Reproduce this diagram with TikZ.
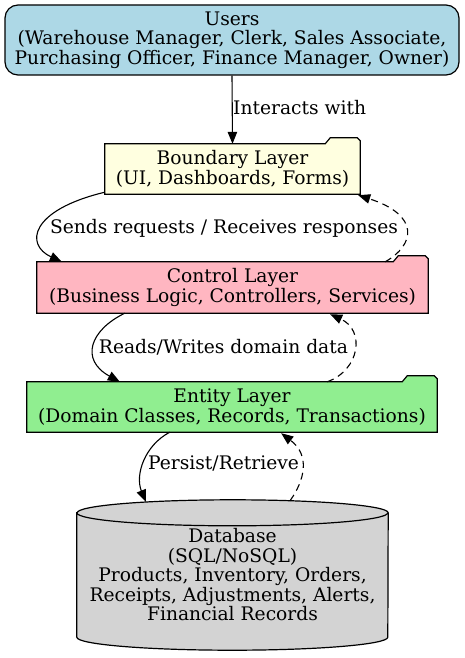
\documentclass[tikz,border=0pt]{standalone}
\usepackage{fontspec}
\setmainfont{DejaVu Serif}
\usetikzlibrary{arrows.meta, positioning, backgrounds}

\definecolor{usersblue}{HTML}{ADD8E6}
\definecolor{bndyellow}{HTML}{FFFFE0}
\definecolor{ctlpink}{HTML}{FFB6C1}
\definecolor{entgreen}{HTML}{90EE90}
\definecolor{dbgray}{HTML}{D3D3D3}

\begin{document}
\begin{tikzpicture}[
    x=1pt, y=1pt,
    >={Triangle[length=12pt,width=9.5pt]},
    every node/.style={font=\fontsize{18.67}{19.5}\selectfont, align=center},
    roundbox/.style={
        draw,
        rectangle,
        rounded corners=13pt,
        line width=1.2pt,
        inner sep=0pt,
        fill=usersblue
    },
    layer/.style={
        rectangle,
        inner sep=0pt,
        minimum height=50pt
    },
    outline/.style={draw=black, line width=1.2pt},
    lbl/.style={inner sep=1pt},
    arrow/.style={->, line width=1.1pt},
    back/.style={->, line width=1.1pt, dash pattern=on 7pt off 5pt}
]
\useasboundingbox (0,0) rectangle (465,-658);

\node[roundbox, minimum width=454pt, minimum height=70pt] (users) at (232,-40)
    {Users\\(Warehouse Manager, Clerk, Sales Associate,\\Purchasing Officer, Finance Manager, Owner)};
\node[layer, minimum width=255pt] (bnd) at (232.5,-169) {Boundary Layer\\(UI, Dashboards, Forms)};
\node[layer, minimum width=391pt, minimum height=51pt] (ctl) at (232.5,-287.5)
    {Control Layer\\(Business Logic, Controllers, Services)};
\node[layer, minimum width=410pt] (ent) at (232,-407)
    {Entity Layer\\(Domain Classes, Records, Transactions)};
\node[inner sep=0pt, minimum width=311pt, minimum height=150pt] (db) at (232.5,-575)
    {Database\\(SQL/NoSQL)\\Products, Inventory, Orders,\\Receipts, Adjustments, Alerts,\\Financial Records};

% folder outlines and the cylinder behind the texts
\begin{scope}[on background layer]
\foreach \n/\c in {bnd/bndyellow, ctl/ctlpink, ent/entgreen} {
    \filldraw[outline, fill=\c] (\n.south west) -- (\n.north west) -- ([xshift=-35]\n.north east)
        -- ++(5,6) -- ([xshift=-3,yshift=6]\n.north east) -- ([yshift=3]\n.north east)
        -- (\n.south east) -- cycle;
}
\filldraw[outline, fill=dbgray] ([yshift=-13]db.north west) -- ([yshift=13]db.south west)
    arc[start angle=180, end angle=360, x radius=155.5, y radius=13]
    -- ([yshift=-13]db.north east)
    arc[start angle=0, end angle=180, x radius=155.5, y radius=13] -- cycle;
\draw[outline] ([yshift=-13]db.north west) arc[start angle=180, end angle=360, x radius=155.5, y radius=13];
\end{scope}

% connectors
\draw[arrow] (users.south) -- (bnd.north);
\node[lbl, anchor=west] (l1) at (232,-108) {Interacts with};

\draw[arrow] ([yshift=2]bnd.south west) .. controls +(-75,-18) and +(-37,17) .. ([xshift=25]ctl.north west);
\draw[back] ([xshift=-43]ctl.north east) .. controls +(30,17) and +(62,-20) .. ([xshift=-2,yshift=-1]bnd.south east);
\node[lbl] (l2) at (224,-228) {Sends requests / Receives responses};

\draw[arrow] ([xshift=88]ctl.south west) .. controls +(-35,-17) and +(-40,22) .. ([xshift=93]ent.north west);
\draw[back] ([xshift=-110]ent.north east) .. controls +(33,12) and +(35,-16) .. ([xshift=-98,yshift=-1]ctl.south east);
\node[lbl] (l3) at (223.5,-347) {Reads/Writes domain data};

\draw[arrow] ([xshift=143]ent.south west) .. controls +(-25,-13) and +(-11,27) .. ([xshift=69,yshift=-2]db.north west);
\draw[back] ([xshift=57.5,yshift=-1]db.north) .. controls +(15,21) and +(29,-22) .. ([xshift=-156,yshift=-1]ent.south east);
\node[lbl] (l4) at (223.5,-463) {Persist/Retrieve};

\end{tikzpicture}
\end{document}
